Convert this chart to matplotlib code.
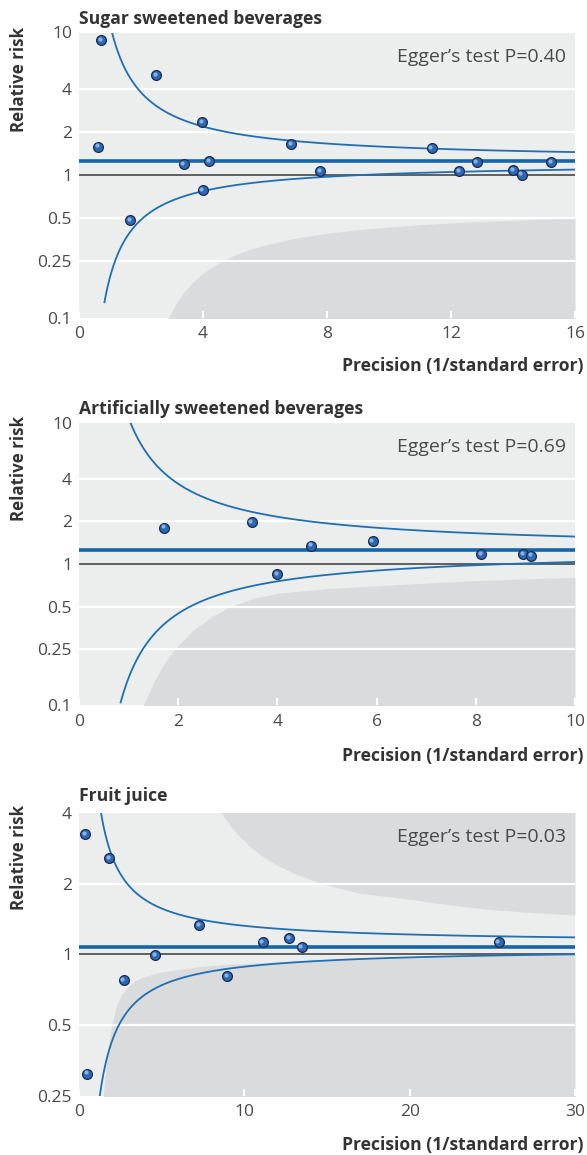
import numpy as np
import matplotlib
matplotlib.use("Agg")
import matplotlib.pyplot as plt
from matplotlib.transforms import offset_copy

# ---------------- data ----------------
# Sugar sweetened beverages
ssb_precision = [0.71, 2.49, 3.97, 0.62, 3.38, 4.20, 6.84, 7.77, 3.99, 1.645,
                 11.38, 12.26, 12.83, 14.01, 14.28, 15.23]
ssb_rr = [8.83, 5.05, 2.36, 1.585, 1.20, 1.25, 1.66, 1.07, 0.787, 0.482,
          1.54, 1.07, 1.23, 1.08, 1.01, 1.23]
ssb_pooled = 1.26
ssb_funnel_upper = [1.266, 2.2]   # centre RR, z
ssb_funnel_lower = [1.23, 1.85]
ssb_funnel_lower_start = 0.82
ssb_contour_x = [2.88, 3.0, 3.2, 3.4, 3.7, 4.0, 4.5, 5.0, 5.5, 6.0, 7.0, 8.0,
                 9.0, 10.0, 11.0, 12.0, 13.0, 14.0, 15.0, 16.0]
ssb_contour_rr = [0.10, 0.112, 0.133, 0.153, 0.181, 0.206, 0.243, 0.275, 0.302,
                  0.325, 0.363, 0.392, 0.416, 0.434, 0.45, 0.463, 0.475, 0.484,
                  0.493, 0.50]
ssb_egger = "Egger\u2019s test P=0.40"

# Artificially sweetened beverages
asb_precision = [1.72, 3.48, 4.68, 4.00, 5.92, 8.11, 8.95, 9.11]
asb_rr = [1.81, 1.97, 1.35, 0.85, 1.455, 1.18, 1.18, 1.145]
asb_pooled = 1.26
asb_funnel_upper = [1.262, 2.15]
asb_funnel_lower = [1.275, 2.1]
asb_funnel_lower_start = 0.84
asb_contour_x = [1.30, 1.51, 1.72, 1.93, 2.30, 2.68, 3.05, 3.53, 4.0, 5.0, 6.0,
                 7.0, 8.0, 9.0, 10.0]
asb_contour_rr = [0.10, 0.146, 0.198, 0.25, 0.34, 0.425, 0.50, 0.574, 0.62,
                  0.669, 0.70, 0.733, 0.762, 0.785, 0.805]
asb_egger = "Egger\u2019s test P=0.69"

# Fruit juice
fj_precision = [0.36, 1.81, 7.28, 4.60, 2.70, 8.97, 0.48, 11.11, 12.69, 13.47, 25.39]
fj_rr = [3.24, 2.57, 1.33, 0.99, 0.775, 0.81, 0.31, 1.125, 1.17, 1.07, 1.125]
fj_pooled = 1.08
fj_funnel_upper = [1.116, 1.7]
fj_funnel_lower = [1.063, 1.82]
fj_funnel_lower_start = 0.5
fj_contour_low_x = [1.47, 1.64, 1.81, 1.98, 2.28, 2.58, 2.98, 3.39, 3.79, 4.6,
                    5.4, 7.1, 8.83, 12.0, 15.18, 22.6, 30.0]
fj_contour_low_rr = [0.25, 0.337, 0.423, 0.50, 0.608, 0.675, 0.732, 0.770, 0.796,
                     0.830, 0.85, 0.884, 0.907, 0.929, 0.943, 0.975, 1.0]
fj_contour_up_x = [8.63, 9.0, 9.5, 10.24, 11.0, 11.86, 13.0, 14.88, 17.0, 19.92,
                   22.5, 24.97, 27.5, 30.0]
fj_contour_up_rr = [4.0, 3.65, 3.29, 2.92, 2.64, 2.42, 2.21, 1.98, 1.82, 1.72,
                    1.62, 1.55, 1.505, 1.47]
fj_egger = "Egger\u2019s test P=0.03"

titles = ["Sugar sweetened beverages", "Artificially sweetened beverages", "Fruit juice"]
ytick_vals_12 = [0.1, 0.25, 0.5, 1, 2, 4, 10]
ytick_labs_12 = ["0.1", "0.25", "0.5", "1", "2", "4", "10"]
ytick_vals_3 = [0.25, 0.5, 1, 2, 4]
ytick_labs_3 = ["0.25", "0.5", "1", "2", "4"]
xticks_1 = [0, 4, 8, 12, 16]
xticks_2 = [0, 2, 4, 6, 8, 10]
xticks_3 = [0, 10, 20, 30]

# ---------------- style ----------------
LIGHT = "#eceeee"
DARK = "#d9dbdd"
BLUE = "#1f6fb2"
POOL = "#1565a8"
TXT = "#4a4a4a"
FONT = ["Open Sans", "DejaVu Sans"]
plt.rcParams["font.family"] = FONT

W, H = 587, 1155
fig = plt.figure(figsize=(W / 100, H / 100), dpi=100)


def ax_rect(left, top, right, bottom):
    return [left / W, 1 - bottom / H, (right - left) / W, (bottom - top) / H]


panels = [
    dict(rect=ax_rect(79, 32.5, 575, 318), xlim=(0, 16), ylim=(0.1, 10),
         xt=xticks_1, yv=ytick_vals_12, yl=ytick_labs_12,
         px=ssb_precision, rr=ssb_rr, pooled=ssb_pooled,
         fu=ssb_funnel_upper, fl=ssb_funnel_lower, fls=ssb_funnel_lower_start,
         egger=ssb_egger, title=titles[0], title_y=23.5, rel_top=27, prec_y=366),
    dict(rect=ax_rect(79, 422.8, 575, 705.2), xlim=(0, 10), ylim=(0.1, 10),
         xt=xticks_2, yv=ytick_vals_12, yl=ytick_labs_12,
         px=asb_precision, rr=asb_rr, pooled=asb_pooled,
         fu=asb_funnel_upper, fl=asb_funnel_lower, fls=asb_funnel_lower_start,
         egger=asb_egger, title=titles[1], title_y=413.5, rel_top=416, prec_y=756),
    dict(rect=ax_rect(79, 813, 575, 1095.7), xlim=(0, 30), ylim=(0.25, 4),
         xt=xticks_3, yv=ytick_vals_3, yl=ytick_labs_3,
         px=fj_precision, rr=fj_rr, pooled=fj_pooled,
         fu=fj_funnel_upper, fl=fj_funnel_lower, fls=fj_funnel_lower_start,
         egger=fj_egger, title=titles[2], title_y=801, rel_top=805, prec_y=1145),
]

for i, p in enumerate(panels):
    ax = fig.add_axes(p["rect"])
    ax.set_facecolor(LIGHT)
    ax.set_yscale("log")
    ax.set_xlim(*p["xlim"])
    ax.set_ylim(*p["ylim"])
    for s in ax.spines.values():
        s.set_visible(False)

    # shaded contour regions
    if i == 0:
        ax.fill_between(ssb_contour_x, 0.01, ssb_contour_rr, color=DARK, lw=0, zorder=0.5)
    elif i == 1:
        ax.fill_between(asb_contour_x, 0.01, asb_contour_rr, color=DARK, lw=0, zorder=0.5)
    else:
        ax.fill_between(fj_contour_low_x, 0.01, fj_contour_low_rr, color=DARK, lw=0, zorder=0.5)
        ax.fill_between(fj_contour_up_x, fj_contour_up_rr, 100, color=DARK, lw=0, zorder=0.5)

    # white gridlines (except at 1 and at edges)
    for v in p["yv"]:
        if v != 1 and p["ylim"][0] < v < p["ylim"][1]:
            ax.axhline(v, color="white", lw=1.6, zorder=1)
    # null line
    ax.axhline(1, color="#555555", lw=1.3, zorder=2)
    # pooled estimate
    ax.axhline(p["pooled"], color=POOL, lw=2.6, zorder=3)

    # funnel limits
    cu, zu = p["fu"]
    cl, zl = p["fl"]
    xs_u = np.linspace(0.3, p["xlim"][1], 800)
    xs_l = np.linspace(p["fls"], p["xlim"][1], 800)
    ax.plot(xs_u, cu * np.exp(zu / xs_u), color=BLUE, lw=1.3, zorder=3)
    ax.plot(xs_l, cl * np.exp(-zl / xs_l), color=BLUE, lw=1.3, zorder=3)

    # study points (sphere-like markers)
    ax.scatter(p["px"], p["rr"], s=50, color="#2c68b4", edgecolors="#1b2c4e",
               linewidths=0.9, zorder=5, clip_on=False)
    hl = offset_copy(ax.transData, fig=fig, x=-1.3, y=1.3, units="dots")
    ax.scatter(p["px"], p["rr"], s=9, color="#86b3ea", linewidths=0, zorder=6,
               transform=hl, clip_on=False)

    ax.set_yticks(p["yv"])
    ax.set_yticklabels(p["yl"])
    ax.minorticks_off()
    ax.set_xticks(p["xt"])
    ax.set_xticklabels([str(t) for t in p["xt"]])
    ax.tick_params(axis="y", length=0, pad=5, labelsize=12.5, labelcolor=TXT)
    ax.tick_params(axis="x", direction="in", length=5, width=1.5, color="white",
                   pad=6, labelsize=12.5, labelcolor=TXT)

    ax.text(0.982, 0.915, p["egger"], transform=ax.transAxes, ha="right",
            va="center", fontsize=14, color=TXT)

    fig.text(79 / W, 1 - p["title_y"] / H, p["title"], ha="left", va="baseline",
             fontsize=12.6, fontweight="bold", color="#333333")
    fig.text(19.5 / W, 1 - p["rel_top"] / H, "Relative risk", rotation=90,
             ha="center", va="top", fontsize=12.2, fontweight="bold", color="#333333")
    fig.text(583 / W, 1 - p["prec_y"] / H, "Precision (1/standard error)",
             ha="right", va="center", fontsize=12.6, fontweight="bold", color="#333333")

fig.savefig("out.png", dpi=100, facecolor="white")
